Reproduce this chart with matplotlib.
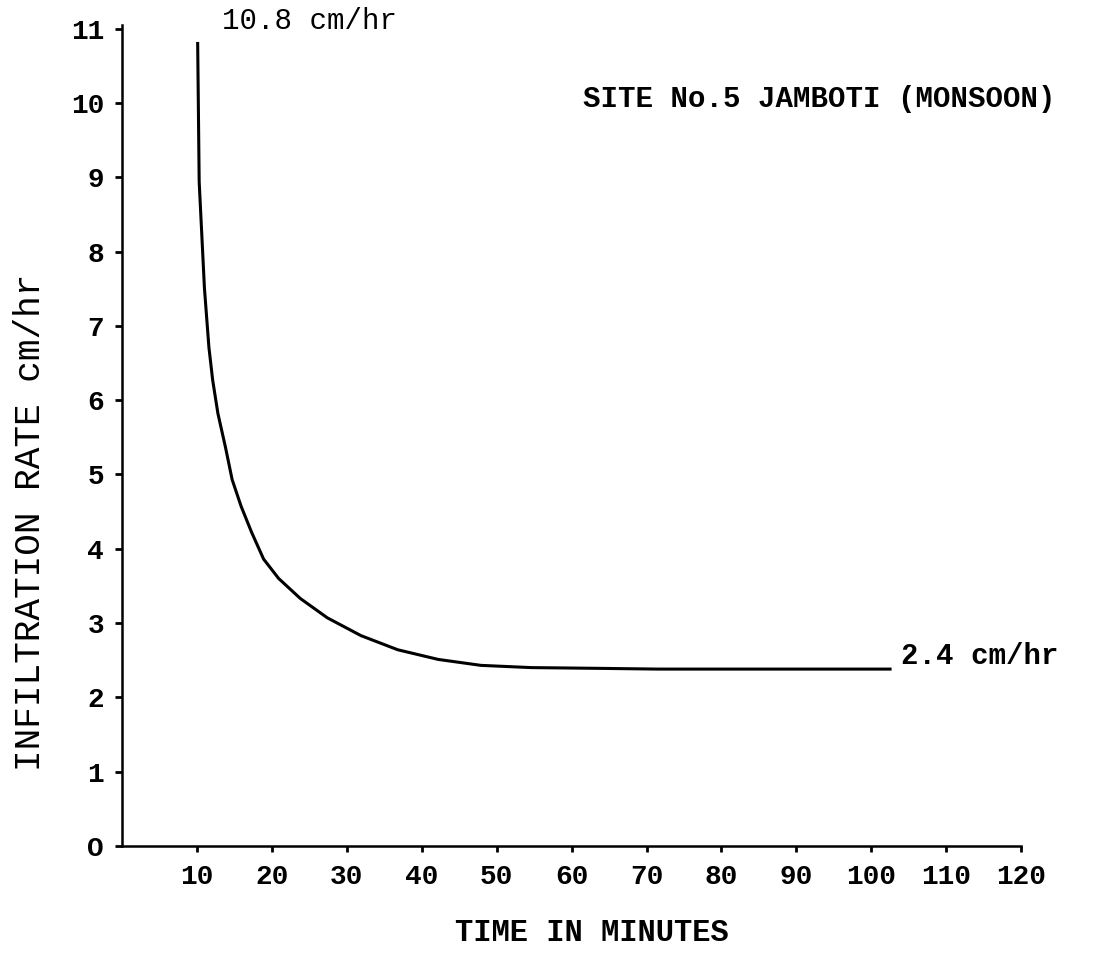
import matplotlib
matplotlib.use('Agg')
import matplotlib.pyplot as plt

# Данные кривой инфильтрации
time_min = [10.1, 10.3, 11.0, 11.6, 12.1, 12.8, 13.8, 14.7, 15.9, 17.3, 18.9,
            20.9, 23.8, 27.4, 31.9, 36.8, 42.2, 47.9, 54.6, 63.5, 71.5, 102.5]
rate_cm_hr = [10.8, 8.94, 7.51, 6.71, 6.27, 5.82, 5.37, 4.93, 4.57, 4.22, 3.86,
              3.60, 3.33, 3.07, 2.83, 2.64, 2.51, 2.43, 2.40, 2.39, 2.38, 2.38]

x_ticks = [10, 20, 30, 40, 50, 60, 70, 80, 90, 100, 110, 120]
y_ticks = [0, 1, 2, 3, 4, 5, 6, 7, 8, 9, 10, 11]

plt.rcParams['font.family'] = ['Liberation Mono', 'DejaVu Sans Mono']

fig = plt.figure(figsize=(11.04, 9.58), dpi=100)
ax = fig.add_axes([0.1105, 0.117, 0.8145, 0.857])

ax.plot(time_min, rate_cm_hr, color='black', linewidth=2.2)

ax.set_xlim(0, 120)
ax.set_ylim(0, 11.05)
ax.set_xticks(x_ticks)
ax.set_yticks(y_ticks)
ax.set_yticklabels(['O'] + [str(v) for v in y_ticks[1:]])

for side in ['top', 'right']:
    ax.spines[side].set_visible(False)
for side in ['left', 'bottom']:
    ax.spines[side].set_linewidth(1.8)

ax.tick_params(axis='x', direction='out', length=4, width=2, pad=9, labelsize=20)
ax.tick_params(axis='y', direction='out', length=5, width=2, pad=8, labelsize=20)
for lbl in ax.get_xticklabels() + ax.get_yticklabels():
    lbl.set_fontweight('bold')

# Подписи осей
fig.text(0.536, 0.026, 'TIME IN MINUTES', fontsize=22, fontweight='bold',
         ha='center', va='center')
fig.text(0.028, 0.455, 'INFILTRATION RATE cm/hr', fontsize=26, rotation=90,
         ha='center', va='center')

# Подписи на графике
ax.text(13.3, 11.1, '10.8 cm/hr', fontsize=21, ha='left', va='center')
ax.text(104.0, 2.55, '2.4 cm/hr', fontsize=21, ha='left', va='center',
        fontweight='bold')
ax.text(61.5, 10.05, 'SITE No.5 JAMBOTI (MONSOON)', fontsize=21,
        ha='left', va='center', fontweight='bold')

fig.savefig('out.png', dpi=100)
